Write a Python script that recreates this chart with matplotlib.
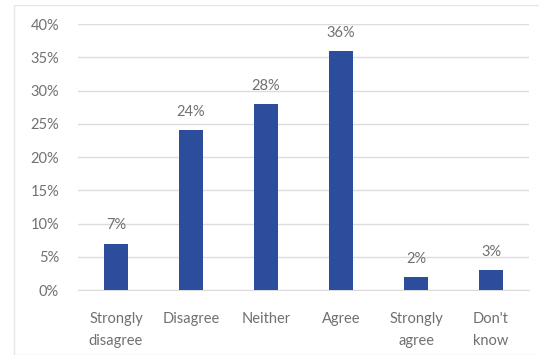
import matplotlib.pyplot as plt
import numpy as np

categories = ["Strongly\ndisagree", "Disagree", "Neither", "Agree", "Strongly\nagree", "Don't\nknow"]
values = [7, 24, 28, 36, 2, 3]
yticks = [0, 5, 10, 15, 20, 25, 30, 35, 40]

text_color = "#707070"
bar_color = "#2c4d9c"

plt.rcParams["font.family"] = ["Lato", "DejaVu Sans"]

fig = plt.figure(figsize=(5.39, 3.55), dpi=100)
ax = fig.add_axes([0.1456, 0.183, 0.835, 0.749])

x = np.arange(len(categories))
rects = ax.bar(x, values, width=0.31, color=bar_color, zorder=3)
ax.bar_label(rects, labels=[f"{v}%" for v in values], padding=8,
             color=text_color, fontsize=10.5)

ax.set_xlim(-0.5, len(categories) - 0.5)
ax.set_ylim(0, 40)
ax.set_yticks(yticks, [f"{t}%" for t in yticks])
ax.set_xticks(x, categories)
ax.grid(axis="y", color="#dcdcdc", linewidth=1, zorder=0)
for s in ax.spines.values():
    s.set_visible(False)
ax.spines["bottom"].set_visible(True)
ax.spines["bottom"].set_color("#dcdcdc")
ax.tick_params(axis="both", length=0, colors=text_color, labelsize=10.5)
ax.tick_params(axis="y", pad=14)
ax.tick_params(axis="x", pad=16)
for lbl in ax.get_xticklabels():
    lbl.set_linespacing(1.7)

# faint outer chart border
fig.patches.append(plt.Rectangle((14 / 539, 0.0), 1.0, 1 - 5 / 355,
                                 transform=fig.transFigure, fill=False,
                                 edgecolor="#e6e6e6", linewidth=1))

fig.savefig("out.png", dpi=100)
